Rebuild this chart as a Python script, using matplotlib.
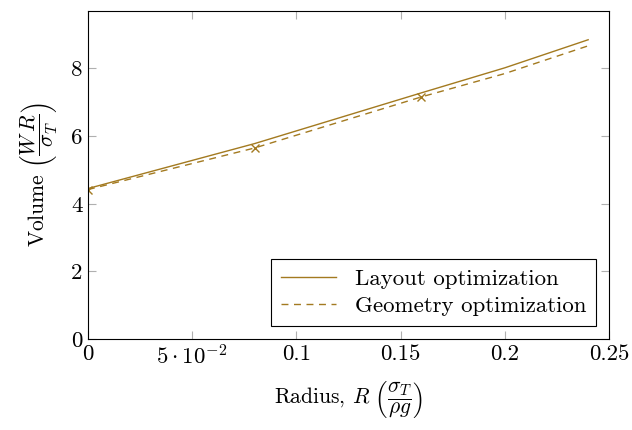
import matplotlib
matplotlib.use("Agg")
import matplotlib.pyplot as plt

# font setup (computer modern look)
plt.rcParams['font.family'] = 'serif'
plt.rcParams['font.serif'] = ['cmr10', 'DejaVu Serif']
plt.rcParams['mathtext.fontset'] = 'cm'
plt.rcParams['axes.formatter.use_mathtext'] = True

# data
radius = [0.0, 0.08, 0.16, 0.2, 0.24]
layout_volume = [4.45, 5.78, 7.28, 8.02, 8.85]
geometry_volume = [4.42, 5.65, 7.16, 7.85, 8.67]
marker_radius = [0.0, 0.08, 0.16]
marker_volume = [4.42, 5.65, 7.16]

xticks = [0, 0.05, 0.1, 0.15, 0.2, 0.25]
xtick_labels = ['0', r'$5\cdot10^{-2}$', '0.1', '0.15', '0.2', '0.25']
yticks = [0, 2, 4, 6, 8]

color = '#a37a20'
fs = 16.5

fig = plt.figure(figsize=(6.32, 4.30), dpi=100)
ax = fig.add_axes([0.1392, 0.2116, 0.8244, 0.7628])

ax.plot(radius, layout_volume, color=color, lw=1.0, label='Layout optimization')
ax.plot(radius, geometry_volume, color=color, lw=1.0, linestyle=(0, (5, 4)),
        label='Geometry optimization')
ax.plot(marker_radius, marker_volume, linestyle='none', marker='x',
        color=color, markersize=6, markeredgewidth=1.0)

ax.set_xlim(0, 0.25)
ax.set_ylim(0, 9.7)
ax.set_xticks(xticks)
ax.set_xticklabels(xtick_labels)
ax.set_yticks(yticks)
ax.set_yticklabels([str(v) for v in yticks])

ax.tick_params(direction='in', length=6, color='#b0b0b0', width=0.8,
               top=True, right=True, labelsize=fs, pad=4)
for s in ax.spines.values():
    s.set_linewidth(0.8)
    s.set_color('black')

ax.set_xlabel(r'Radius, $R\ \left(\dfrac{\sigma_T}{\rho g}\right)$', fontsize=15.5, labelpad=8)
ax.set_ylabel(r'Volume $\left(\dfrac{W\,R}{\sigma_T}\right)$', fontsize=15.5, labelpad=8)

leg = ax.legend(loc='lower right', fontsize=16.5, frameon=True, fancybox=False,
                edgecolor='black', framealpha=1, handlelength=2.4,
                borderaxespad=0.55, labelspacing=0.3, borderpad=0.45)
leg.get_frame().set_linewidth(0.8)

fig.savefig('out.png', dpi=100)
